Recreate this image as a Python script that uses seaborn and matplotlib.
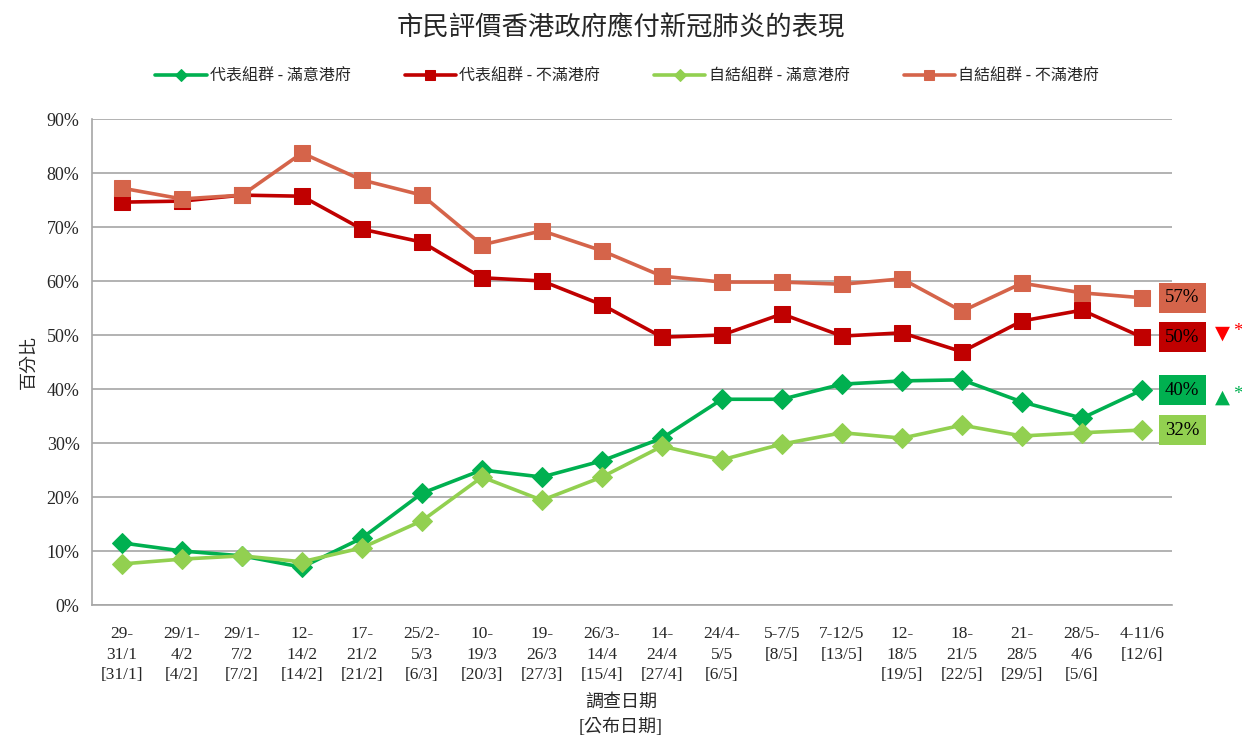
import matplotlib
matplotlib.use("Agg")
import matplotlib.pyplot as plt
import seaborn as sns
import pandas as pd
from matplotlib.ticker import FuncFormatter

dates = ["29-\n31/1\n[31/1]", "29/1-\n4/2\n[4/2]", "29/1-\n7/2\n[7/2]", "12-\n14/2\n[14/2]",
         "17-\n21/2\n[21/2]", "25/2-\n5/3\n[6/3]", "10-\n19/3\n[20/3]", "19-\n26/3\n[27/3]",
         "26/3-\n14/4\n[15/4]", "14-\n24/4\n[27/4]", "24/4-\n5/5\n[6/5]", "5-7/5\n[8/5]",
         "7-12/5\n[13/5]", "12-\n18/5\n[19/5]", "18-\n21/5\n[22/5]", "21-\n28/5\n[29/5]",
         "28/5-\n4/6\n[5/6]", "4-11/6\n[12/6]"]

rep_sat = [11.5, 10.0, 9.1, 7.0, 12.4, 20.7, 25.0, 23.7, 26.7, 30.9, 38.1, 38.1, 40.9, 41.5, 41.7, 37.6, 34.6, 39.8]
rep_dis = [74.6, 74.8, 75.9, 75.7, 69.6, 67.2, 60.6, 60.0, 55.6, 49.6, 50.0, 53.9, 49.8, 50.4, 46.9, 52.6, 54.6, 49.6]
opt_sat = [7.6, 8.5, 9.1, 8.0, 10.6, 15.6, 23.7, 19.4, 23.7, 29.4, 26.9, 29.8, 31.9, 30.9, 33.3, 31.3, 31.9, 32.4]
opt_dis = [77.2, 75.2, 75.9, 83.7, 78.7, 75.9, 66.7, 69.3, 65.6, 60.9, 59.8, 59.8, 59.4, 60.4, 54.4, 59.6, 57.8, 56.9]

series_names = ["代表組群 - 滿意港府", "代表組群 - 不滿港府", "自結組群 - 滿意港府", "自結組群 - 不滿港府"]
series_vals = [rep_sat, rep_dis, opt_sat, opt_dis]
colors = ["#00B050", "#C00000", "#92D050", "#D5644A"]
markers = ["D", "s", "D", "s"]
msizes = [10, 11.5, 10, 11.5]
end_labels = ["40%", "50%", "32%", "57%"]

cjk = ["Liberation Serif", "Noto Sans CJK TC", "DejaVu Sans"]
sans_cjk = ["Noto Sans CJK TC", "DejaVu Sans"]

sns.set_style("white")
plt.rcParams["font.family"] = cjk

fig = plt.figure(figsize=(12.42, 7.35), dpi=100)
ax = fig.add_axes([92 / 1242, 1 - 605 / 735, 1080 / 1242, 486 / 735])

x = list(range(len(dates)))
handles = []
for name, vals, c, m, ms in zip(series_names, series_vals, colors, markers, msizes):
    sns.lineplot(x=x, y=vals, ax=ax, color=c, marker=m, markersize=ms,
                 markeredgecolor=c, linewidth=2.6, label=name, legend=False)
    handles.append(ax.lines[-1])

ax.set_xlim(-0.5, len(dates) - 0.5)
ax.set_ylim(0, 90)
ax.set_yticks(range(0, 91, 10))
ax.yaxis.set_major_formatter(FuncFormatter(lambda v, p: f"{int(v)}%"))
ax.set_xticks(x)
ax.set_xticklabels(dates, fontsize=12.5, linespacing=1.4, va="top")
ax.set_xticks([-0.5, 4.5, 9.5, 14.5], minor=True)
ax.tick_params(axis="x", which="major", length=0, pad=15)
ax.tick_params(axis="x", which="minor", length=6, color="#A0A0A0", direction="out")
ax.tick_params(axis="y", length=5, color="#A0A0A0", direction="out", labelsize=13, pad=4)
ax.grid(axis="y", color="#A6A6A6", linewidth=1.2)
ax.set_axisbelow(True)
for s in ["top", "right"]:
    ax.spines[s].set_visible(False)
for s in ["left", "bottom"]:
    ax.spines[s].set_color("#A6A6A6")
    ax.spines[s].set_linewidth(1.2)

# end value boxes
for vals, c, lab in zip(series_vals, colors, end_labels):
    ax.annotate(lab, xy=(len(dates) - 1, vals[-1]), xytext=(29, 0), textcoords="offset points",
                ha="center", va="center", fontsize=13.5, color="black", annotation_clip=False,
                bbox=dict(boxstyle="square,pad=0.35", fc=c, ec="none"))

ax.annotate("▼", xy=(len(dates) - 1, rep_dis[-1]), xytext=(58, 3), textcoords="offset points",
            ha="center", va="center", fontsize=14, color="#FF0000", family=["DejaVu Sans"],
            annotation_clip=False)
ax.annotate("*", xy=(len(dates) - 1, rep_dis[-1]), xytext=(69, 4), textcoords="offset points",
            ha="center", va="center", fontsize=14, color="#FF0000", annotation_clip=False)
ax.annotate("▲", xy=(len(dates) - 1, rep_sat[-1]), xytext=(58, -5), textcoords="offset points",
            ha="center", va="center", fontsize=14, color="#00B050", family=["DejaVu Sans"],
            annotation_clip=False)
ax.annotate("*", xy=(len(dates) - 1, rep_sat[-1]), xytext=(69, -3), textcoords="offset points",
            ha="center", va="center", fontsize=14, color="#00B050", annotation_clip=False)

ax.set_ylabel("百分比", fontsize=13, labelpad=6)
fig.text(0.5, 1 - 28 / 735, "市民評價香港政府應付新冠肺炎的表現", ha="center", va="center", fontsize=19)
fig.text(0.5, 1 - 702 / 735, "調查日期", ha="center", va="center", fontsize=13)
fig.text(0.5, 1 - 727 / 735, "[公布日期]", ha="center", va="center", fontsize=13)

fig.legend(handles=handles, labels=series_names, loc="center", bbox_to_anchor=(0.505, 1 - 76 / 735),
           ncol=4, frameon=False, prop={"family": sans_cjk, "size": 11.5}, handlelength=3.2,
           handletextpad=0.2, columnspacing=3.4, markerscale=0.65)

fig.savefig("out.png", dpi=100)
